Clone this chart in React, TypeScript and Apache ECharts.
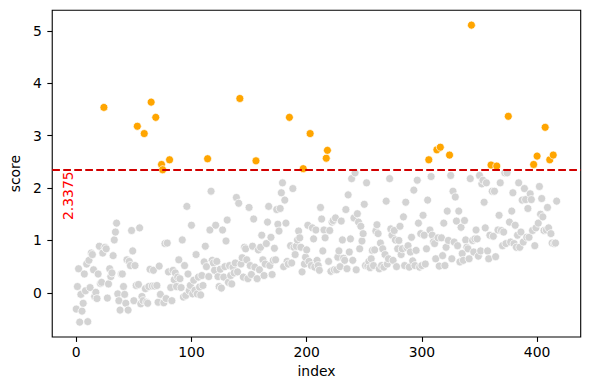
import React, { useEffect, useRef } from "react";
import * as echarts from "echarts";

// score per index
const scores: number[] = [
  -0.31, 0.12, 0.46, -0.56, -0.03, -0.35, -0.2, 0.36, 0.04, 0.55,
  -0.55, 0.62, 0.1, 0.76, 0.73, 0.44, -0.07, 0.01, -0.11, 0.36,
  0.89, 0.18, 0.2, 0.76, 3.54, 0.87, 0.84, -0.1, 0.17, 0.46,
  0.31, 0.38, 0.71, 1.01, 1.16, 1.33, -0.02, -0.15, -0.33, 0.36,
  0.36, 0.12, -0.03, -0.2, 0.63, -0.33, 0.6, 0.52, 1.19, 0.8,
  -0.15, 0.52, 0.14, 3.18, 0.16, 1.24, -0.21, -0.07, -0.15, 3.04,
  0.08, -0.18, -0.2, 0.12, 0.45, 3.64, 0.13, 0.43, 0.13, 3.35,
  0.14, -0.18, 0.51, -0.03, 2.45, 2.35, -0.19, 0.94, -0.11, 0.95,
  0.4, 2.54, 0.1, -0.15, 0.43, 0.25, 0.38, 0.12, 0.3, 0.63,
  0.27, 0.1, 1.01, -0.08, 0.52, -0.05, 1.65, 0.36, 0.04, 0.14,
  1.29, -0.02, 0.24, 0.05, 0.73, -0.02, 0.3, 0.11, -0.04, 0.33,
  0.14, 0.59, 0.89, 0.5, 2.56, 0.31, 1.2, 1.94, 0.62, 0.57,
  0.43, 1.29, 0.6, 0.31, 0.12, 0.45, 0.09, 1.2, 0.3, 0.5,
  0.99, 1.39, 0.2, 0.52, 0.33, 0.17, 0.49, 0.38, 0.57, 1.82,
  0.4, 1.71, 3.71, 0.55, 0.67, 0.3, 0.87, 0.84, 0.63, 0.27,
  1.63, 0.52, 0.35, 0.89, 1.41, 0.49, 2.52, 0.27, 0.82, 0.44,
  0.87, 1.1, 0.63, 0.33, 0.55, 0.94, 1.35, 1.65, 0.52, 1.06,
  0.35, 0.62, 0.85, 0.63, 1.59, 1.31, 1.18, 1.61, 1.91, 2.1,
  0.5, 1.77, 1.33, 0.6, 0.55, 3.35, 0.9, 0.57, 1.99, 0.87,
  0.73, 0.89, 1.01, 1.18, 1.05, 0.87, 0.4, 2.37, 0.55, 0.68,
  0.82, 1.29, 0.6, 3.04, 0.52, 1.24, 1.03, 0.49, 1.2, 0.62,
  0.52, 0.43, 1.63, 1.41, 0.8, 1.2, 1.05, 2.57, 2.72, 0.6,
  1.19, 0.41, 1.35, 1.38, 0.44, 1.43, 0.44, 0.68, 0.8, 0.5,
  1.37, 1.01, 0.66, 0.62, 1.59, 0.46, 1.87, 0.78, 1.03, 2.18,
  0.62, 1.43, 2.29, 0.44, 1.51, 1.35, 0.84, 1.27, 0.99, 1.13,
  1.69, 0.52, 2.1, 0.51, 0.6, 0.48, 0.65, 0.81, 0.52, 0.82,
  1.18, 1.3, 1.13, 0.46, 0.95, 0.52, 0.84, 0.49, 0.73, 1.75,
  0.55, 0.65, 2.18, 1.22, 1.1, 0.62, 1.19, 1.01, 0.5, 0.84,
  1.0, 1.27, 0.73, 0.84, 1.45, 0.52, 1.73, 0.86, 0.9, 0.49,
  0.78, 1.06, 0.61, 1.96, 0.52, 0.81, 2.15, 1.33, 0.49, 1.13,
  0.52, 1.48, 1.1, 0.55, 0.84, 1.77, 2.54, 1.2, 2.22, 1.1,
  0.97, 0.94, 0.65, 2.73, 1.05, 0.51, 2.78, 1.05, 0.71, 1.33,
  0.52, 0.87, 1.56, 1.0, 2.63, 2.24, 0.65, 1.94, 0.97, 1.83,
  1.37, 0.9, 1.56, 0.59, 1.25, 0.75, 0.62, 1.38, 1.01, 0.87,
  0.84, 0.65, 2.18, 5.11, 1.0, 0.78, 1.03, 1.2, 1.03, 0.7,
  2.24, 0.8, 2.08, 2.15, 1.73, 1.24, 2.1, 0.8, 0.65, 1.1,
  2.44, 1.94, 1.08, 1.94, 0.69, 2.42, 1.2, 1.48, 2.1, 1.19,
  0.9, 1.16, 2.29, 0.94, 2.29, 3.37, 1.35, 0.97, 1.56, 1.91,
  0.94, 1.29, 0.87, 1.1, 2.1, 0.87, 1.16, 1.77, 0.97, 1.99,
  1.78, 1.06, 1.61, 1.06, 1.89, 1.78, 1.19, 2.45, 0.9, 1.24,
  2.61, 1.33, 2.03, 1.5, 1.8, 1.45, 1.19, 3.16, 1.2, 1.63,
  1.24, 2.54, 1.13, 0.95, 2.63, 0.94, 0.95, 1.75,
];

const threshold = 2.3375;
const thresholdLabel = "2.3375";
const labelIndex = -7.2;
const xTicks = [0, 100, 200, 300, 400];
const yTicks = [0, 1, 2, 3, 4, 5];
const xName = "index";
const yName = "score";

const FONT = "DejaVu Sans";
const FS = 13.9;

export default function App() {
  const ref = useRef<HTMLDivElement>(null);

  useEffect(() => {
    const chart = echarts.init(ref.current!, null, { renderer: "svg" });
    const n = scores.length;
    const xSpan = n - 1;
    const yMin = Math.min(...scores);
    const yMax = Math.max(...scores);
    const ySpan = yMax - yMin;

    const pts = scores.map((v, i) => [i, v]);
    const low = pts.filter((d) => d[1] <= threshold);
    const high = pts.filter((d) => d[1] > threshold);

    const axisText = { fontFamily: FONT, fontSize: FS, color: "#000" };
    const tick = (vals: number[]) => ({
      show: true,
      length: 4.9,
      inside: false,
      lineStyle: { color: "#000", width: 1.1 },
      customValues: vals,
    });

    chart.setOption({
      animation: false,
      backgroundColor: "#fff",
      grid: {
        left: 48.3,
        top: 10.3,
        right: 9.3,
        bottom: 53,
        show: true,
        borderColor: "#000",
        borderWidth: 1.1,
        backgroundColor: "transparent",
      },
      xAxis: {
        type: "value",
        position: "bottom",
        min: -0.05 * xSpan,
        max: xSpan * 1.05,
        splitLine: { show: false },
        axisLine: { show: false, onZero: false },
        axisTick: tick(xTicks),
        axisLabel: { ...axisText, customValues: xTicks, margin: 8 },
        name: xName,
        nameLocation: "middle",
        nameGap: 27,
        nameTextStyle: axisText,
      },
      yAxis: {
        type: "value",
        position: "left",
        min: yMin - 0.05 * ySpan,
        max: yMax + 0.05 * ySpan,
        splitLine: { show: false },
        axisLine: { show: false, onZero: false },
        axisTick: tick(yTicks),
        axisLabel: { ...axisText, customValues: yTicks, margin: 10.5 },
        name: yName,
        nameLocation: "middle",
        nameGap: 22,
        nameRotate: 90,
        nameTextStyle: axisText,
      },
      series: [
        {
          type: "scatter",
          data: low,
          symbol: "circle",
          symbolSize: 8,
          itemStyle: { color: "#d3d3d3", borderColor: "#fff", borderWidth: 0.7, opacity: 1 },
          z: 2,
        },
        {
          type: "scatter",
          data: high,
          symbol: "circle",
          symbolSize: 8,
          itemStyle: { color: "#ffa500", borderColor: "#fff", borderWidth: 0.7, opacity: 1 },
          z: 3,
          markLine: {
            silent: true,
            symbol: "none",
            z: 5,
            label: { show: false },
            lineStyle: { color: "#d10000", type: [7.7, 3.3], width: 2.1 },
            data: [{ yAxis: threshold }],
          },
        },
      ],
    });

    const p = chart.convertToPixel({ gridIndex: 0 }, [labelIndex, threshold]) as number[];
    chart.setOption({
      graphic: [
        {
          type: "text",
          x: p[0],
          y: p[1] + 1,
          rotation: Math.PI / 2,
          silent: true,
          z: 10,
          style: {
            text: thresholdLabel,
            fill: "#ff0000",
            fontFamily: FONT,
            fontSize: FS,
            align: "right",
            verticalAlign: "middle",
          },
        },
      ],
    });

    return () => chart.dispose();
  }, []);

  return (
    <div
      ref={ref}
      style={{ position: "fixed", left: 0, top: 0, width: 590, height: 390 }}
    />
  );
}
